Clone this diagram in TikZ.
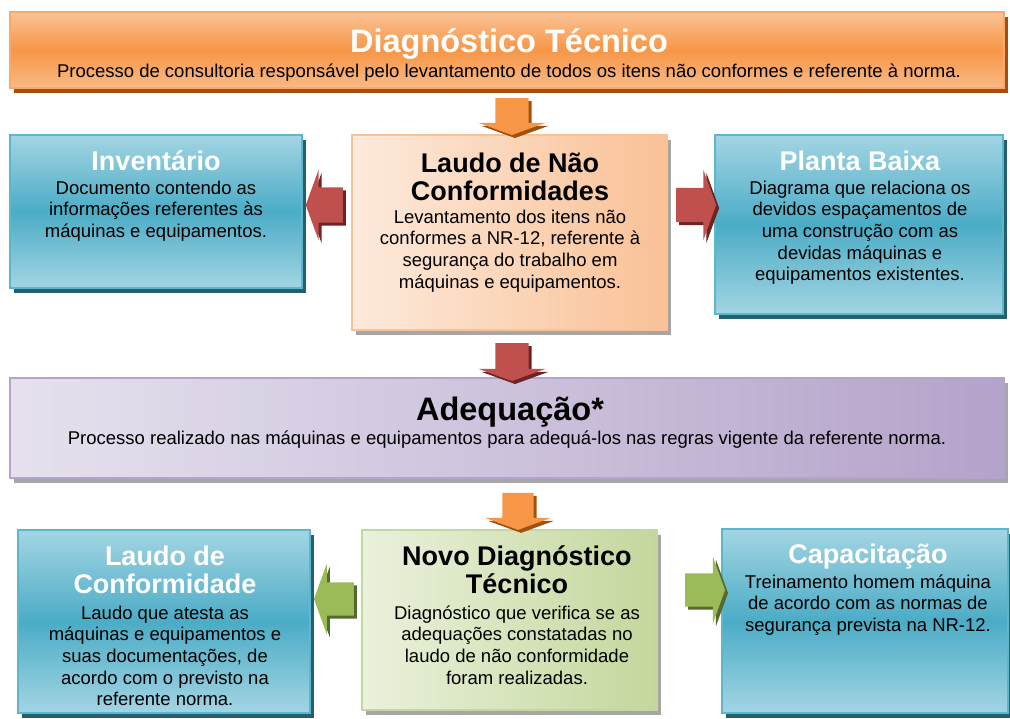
\documentclass[tikz,border=0pt]{standalone}
\usepackage{fontspec}
\setmainfont{Liberation Sans}
\usetikzlibrary{shapes.arrows}
\usetikzlibrary{shadows}
\usetikzlibrary{positioning}
\definecolor{bluelt}{HTML}{A3D5E3}
\definecolor{bluedk}{HTML}{4BACC6}
\definecolor{blueln}{HTML}{5BB6CE}
\definecolor{blueshd}{HTML}{245F6E}
\definecolor{orglt}{HTML}{FAC396}
\definecolor{orgdk}{HTML}{F79646}
\definecolor{orgln}{HTML}{F9A86A}
\definecolor{orgshd}{HTML}{A0500F}
\definecolor{peachlt}{HTML}{FDEADC}
\definecolor{peachdk}{HTML}{F9C196}
\definecolor{purlt}{HTML}{E6E1EE}
\definecolor{purdk}{HTML}{B4A3CA}
\definecolor{grnlt}{HTML}{EAF1DC}
\definecolor{grndk}{HTML}{C4D79C}
\definecolor{graysh}{HTML}{A6A6A6}
\definecolor{redarr}{HTML}{C0504D}
\definecolor{redshd}{HTML}{6E2422}
\definecolor{grnarr}{HTML}{9BBB59}
\definecolor{grnshd}{HTML}{56692E}
\tikzset{
    bluebox/.style = {rectangle, draw=blueln, line width=1.2pt, top color=bluelt, bottom color=bluelt, middle color=bluedk,
                      drop shadow={shadow xshift=4pt, shadow yshift=-5pt, fill=blueshd, opacity=1}},
    orgbox/.style = {rectangle, draw=orgln, line width=1.2pt, top color=orglt, bottom color=orglt!80!orgdk, middle color=orgdk,
                      drop shadow={shadow xshift=4pt, shadow yshift=-5pt, fill=orgshd, opacity=1}},
    peachbox/.style = {rectangle, draw=peachdk, line width=1.2pt, left color=peachlt, right color=peachdk,
                      drop shadow={shadow xshift=4pt, shadow yshift=-5pt, fill=graysh, opacity=1}},
    purbox/.style = {rectangle, draw=purdk, line width=1.2pt, left color=purlt, right color=purdk,
                      drop shadow={shadow xshift=4pt, shadow yshift=-5pt, fill=graysh, opacity=1}},
    grnbox/.style = {rectangle, draw=grndk, line width=1.2pt, left color=grnlt, right color=grndk,
                      drop shadow={shadow xshift=4pt, shadow yshift=-5pt, fill=graysh, opacity=1}},
    bigtitle/.style = {font=\fontsize{32.5}{34}\selectfont\bfseries, anchor=base, inner sep=0pt, align=center},
    title/.style = {font=\fontsize{27}{28.5}\selectfont\bfseries, anchor=base, inner sep=0pt, align=center},
    body/.style = {font=\fontsize{18.5}{21.7}\selectfont, anchor=base, inner sep=0pt, align=center},
    blockarrow/.style = {single arrow, draw=none, inner xsep=0pt, minimum width=0pt, single arrow tip angle=140,
                         drop shadow={shadow xshift=3pt, shadow yshift=-3pt, fill=#1, opacity=1}},
    arright/.style = {blockarrow=#1},
    arleft/.style = {blockarrow=#1, rotate=180},
    ardown/.style = {blockarrow=#1, rotate=-90}
}

\begin{document}
\begin{tikzpicture}[x=1pt, y=-1pt]
  \useasboundingbox (0,0) rectangle (1010,718);

  % boxes
  \node[orgbox, minimum width=994pt, minimum height=76pt] (diag) at (507,50) {};
  \node[bluebox, minimum width=292pt, minimum height=153pt] (inv) at (156,211.5) {};
  \node[peachbox, minimum width=315pt, minimum height=195pt] (laudo) at (509.5,232.5) {};
  \node[bluebox, minimum width=288pt, minimum height=179pt] (planta) at (859,224.5) {};
  \node[purbox, minimum width=994pt, minimum height=100pt] (adeq) at (507,428) {};
  \node[bluebox, minimum width=292pt, minimum height=183pt] (conf) at (164,621.5) {};
  \node[grnbox, minimum width=295pt, minimum height=180pt] (novo) at (509.5,620) {};
  \node[bluebox, minimum width=286pt, minimum height=184pt] (capac) at (865,621) {};

  % arrows
  \node[ardown=orgshd, fill=orgdk, minimum height=37pt, inner ysep=16.5pt, single arrow head extend=17pt] (arDiag) at (512,113.5) {};
  \node[arleft=redshd, fill=redarr, minimum height=37pt, inner ysep=17.5pt, single arrow head extend=17.5pt] (arInv) at (327.5,205) {};
  \node[arright=redshd, fill=redarr, minimum height=40pt, inner ysep=17pt, single arrow head extend=18pt] (arPlanta) at (693,205) {};
  \node[ardown=redshd, fill=redarr, minimum height=38pt, inner ysep=16.5pt, single arrow head extend=17pt] (arAdeq) at (512,359) {};
  \node[ardown=orgshd, fill=orgdk, minimum height=37pt, inner ysep=15.5pt, single arrow head extend=17pt] (arNovo) at (518,508.5) {};
  \node[arleft=grnshd, fill=grnarr, minimum height=40pt, inner ysep=16.5pt, single arrow head extend=18.5pt] (arConf) at (337,599) {};
  \node[arright=grnshd, fill=grnarr, minimum height=40pt, inner ysep=16.5pt, single arrow head extend=17pt] (arCapac) at (702,590) {};

  % texts (base = baseline of the last line)
  \node[bigtitle, text=white] (diagT) at (509,52) {Diagnóstico Técnico};
  \node[body] (diagB) at (509,77) {Processo de consultoria responsável pelo levantamento de todos os itens não conformes e referente à norma.};

  \node[title, text=white] (invT) at (156,170) {Inventário};
  \node[body] (invB) at (156,237.4) {Documento contendo as\\informações referentes às\\máquinas e equipamentos.};

  \node[title] (laudoT) at (510,200.5) {Laudo de Não\\Conformidades};
  \node[body] (laudoB) at (510,288.1) {Levantamento dos itens não\\conformes a NR-12, referente à\\segurança do trabalho em\\máquinas e equipamentos.};

  \node[title, text=white] (plantaT) at (860,170) {Planta Baixa};
  \node[body] (plantaB) at (860,280.8) {Diagrama que relaciona os\\devidos espaçamentos de\\uma construção com as\\devidas máquinas e\\equipamentos existentes.};

  \node[bigtitle] (adeqT) at (510,420) {Adequação*};
  \node[body] (adeqB) at (507,444) {Processo realizado nas máquinas e equipamentos para adequá-los nas regras vigente da referente norma.};

  \node[title, text=white] (confT) at (165,593.5) {Laudo de\\Conformidade};
  \node[body] (confB) at (165,705.8) {Laudo que atesta as\\máquinas e equipamentos e\\suas documentações, de\\acordo com o previsto na\\referente norma.};

  \node[title] (novoT) at (517,593.5) {Novo Diagnóstico\\Técnico};
  \node[body] (novoB) at (517,684.1) {Diagnóstico que verifica se as\\adequações constatadas no\\laudo de não conformidade\\foram realizadas.};

  \node[title, text=white] (capacT) at (868,563) {Capacitação};
  \node[body] (capacB) at (868,631.4) {Treinamento homem máquina\\de acordo com as normas de\\segurança prevista na NR-12.};
\end{tikzpicture}
\end{document}
